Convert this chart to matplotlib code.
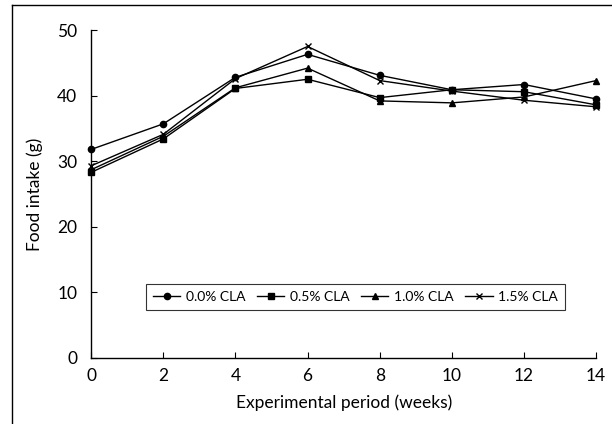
import matplotlib.pyplot as plt
from matplotlib.lines import Line2D

plt.rcParams["font.family"] = ["Lato", "DejaVu Sans"]

weeks = [0, 2, 4, 6, 8, 10, 12, 14]
cla_00 = [31.8, 35.7, 42.8, 46.3, 43.1, 40.9, 41.7, 39.5]
cla_05 = [28.3, 33.4, 41.1, 42.5, 39.7, 40.9, 40.6, 38.6]
cla_10 = [28.7, 33.8, 41.2, 44.2, 39.2, 38.9, 39.8, 42.3]
cla_15 = [29.3, 34.1, 42.6, 47.5, 42.3, 40.7, 39.3, 38.3]

labels = ["0.0% CLA", "0.5% CLA", "1.0% CLA", "1.5% CLA"]
markers = ["o", "s", "^", "x"]
series = [cla_00, cla_05, cla_10, cla_15]

fig = plt.figure(figsize=(6.12, 4.24), dpi=100)
ax = fig.add_axes([0.149, 0.156, 0.825, 0.773])

for vals, lab, mk in zip(series, labels, markers):
    ax.plot(weeks, vals, color="black", lw=1.0, marker=mk, markersize=4.5,
            markeredgewidth=1.0, label=lab, clip_on=False)

ax.set_xlim(0, 14)
ax.set_ylim(0, 50)
ax.set_xticks(weeks)
ax.set_yticks([0, 10, 20, 30, 40, 50])
ax.tick_params(direction="in", length=4, labelsize=12.5, width=0.8)
ax.tick_params(axis="x", pad=7)
ax.tick_params(axis="y", pad=10)
for s in ["top", "right"]:
    ax.spines[s].set_visible(False)
for s in ["left", "bottom"]:
    ax.spines[s].set_linewidth(1.0)

ax.set_xlabel("Experimental period (weeks)", fontsize=12.5, labelpad=8)
ax.set_ylabel("Food intake (g)", fontsize=12.5, labelpad=10)

leg = ax.legend(loc="center", bbox_to_anchor=(0.523, 0.186), ncol=4,
                frameon=True, fancybox=False, edgecolor="black", fontsize=10,
                handlelength=2.0, handletextpad=0.4, columnspacing=0.8,
                borderpad=0.5)
leg.get_frame().set_linewidth(0.8)

# page frame (left and top edges)
fig.add_artist(Line2D([0.02, 0.02], [0.0, 0.988], color="black", lw=1.0,
                      transform=fig.transFigure))
fig.add_artist(Line2D([0.02, 1.0], [0.988, 0.988], color="black", lw=1.0,
                      transform=fig.transFigure))

fig.savefig("out.png", dpi=100)
